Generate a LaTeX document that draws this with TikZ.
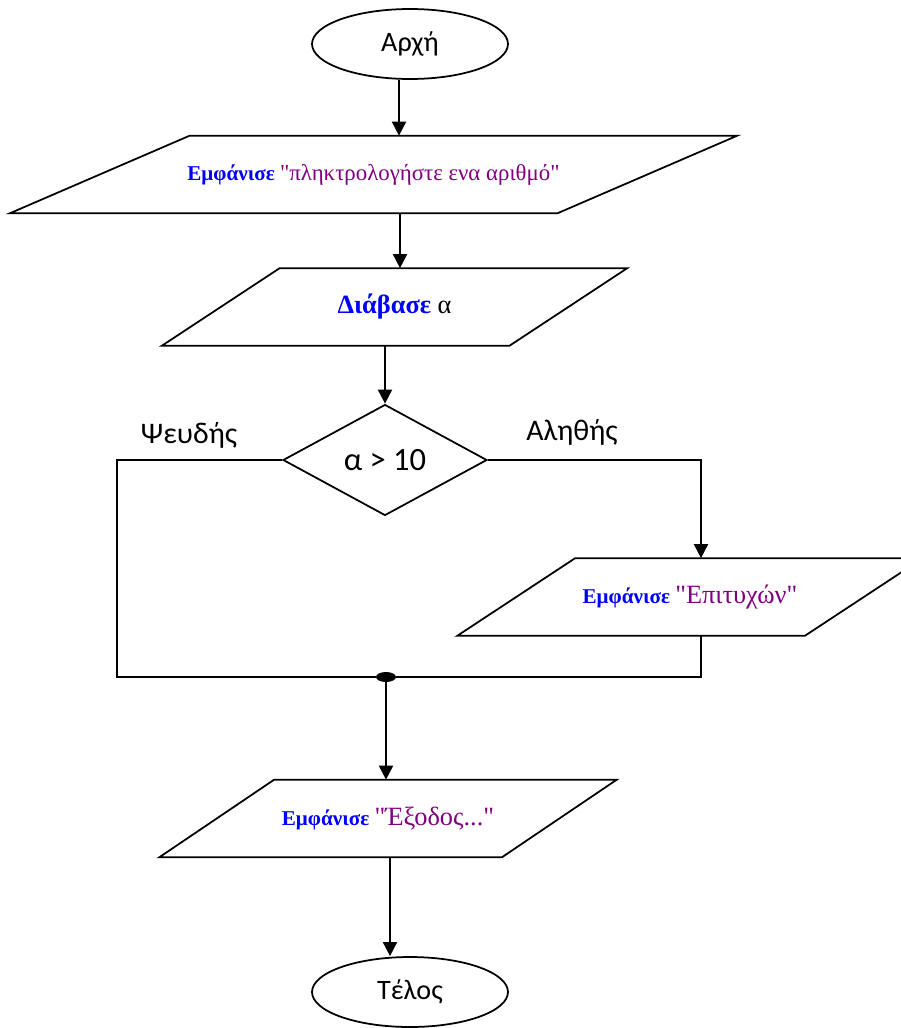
\documentclass[tikz,border=0pt]{standalone}
\usepackage{fontspec}
\newfontfamily\timesfont{Liberation Serif}
\newfontfamily\calibri{Carlito}
\usetikzlibrary{shapes.geometric,arrows.meta}
\definecolor{kwblue}{RGB}{0,0,255}
\definecolor{strpurple}{RGB}{128,0,128}
\newcommand{\kw}[1]{\textbf{\color{kwblue}#1}}
\newcommand{\quoted}[1]{{\color{strpurple}#1}}
\tikzstyle{term}=[ellipse,draw=black,line width=1pt,minimum width=3.92cm,minimum height=1.4cm,inner sep=0pt,font=\calibri\fontsize{16}{19}\selectfont]
\tikzstyle{io}=[rectangle,minimum width=6.94cm,minimum height=1.54cm,inner sep=0pt,font=\timesfont]
\tikzstyle{cond}=[diamond,draw=black,line width=1pt,minimum width=4.08cm,minimum height=2.22cm,inner sep=0pt,font=\calibri\fontsize{18.5}{21}\selectfont]
\tikzstyle{lbl}=[font=\calibri\fontsize{17}{20}\selectfont]
\tikzstyle{ln}=[line width=1pt]
\tikzstyle{arr}=[line width=1pt,-{Triangle[width=8pt,length=8pt]}]
% slanted outline round an io node: #1 node, #2 half slant
\newcommand{\iopath}[2]{\draw[ln] ([xshift=#2]#1.north west) -- ([xshift=#2]#1.north east) -- ([xshift=-#2]#1.south east) -- ([xshift=-#2]#1.south west) -- cycle;}

\begin{document}
\begin{tikzpicture}[x=0.02cm,y=-0.02cm]
\useasboundingbox (0,0) rectangle (901,1028);
\node[term] (start) at (410,44) {Αρχή};
\node[io,minimum width=10.94cm] (p1) at (373.5,174.5) {\fontsize{12}{14}\selectfont\kw{Εμφάνισε} \quoted{\fontsize{13}{15}\selectfont"πληκτρολογήστε ενα αριθμό"}};
\node[io] (p2) at (394.5,307) {\fontsize{15}{18}\selectfont\kw{Διάβασε} α};
\node[cond] (test) at (385,460) {α > 10};
\node[lbl] (no) at (189,435) {Ψευδής};
\node[lbl] (yes) at (572,432) {Αληθής};
\node[io] (p3) at (690,597) {\fontsize{12}{14}\selectfont\kw{Εμφάνισε} \quoted{\fontsize{15}{18}\selectfont"Επιτυχών"}};
\node[ellipse,fill=black,minimum width=0.4cm,minimum height=0.2cm,inner sep=0pt] (dot) at (386,677) {};
\node[io,minimum width=6.84cm] (p4) at (388,818.5) {\fontsize{12}{14}\selectfont\kw{Εμφάνισε} \quoted{\fontsize{15}{18}\selectfont"Έξοδος..."}};
\node[term] (stop) at (410,992) {Τέλος};
\iopath{p1}{1.8cm}
\iopath{p2}{1.18cm}
\iopath{p3}{1.18cm}
\iopath{p4}{1.15cm}
% connectors
\draw[arr] (399,0 |- start.south) -- (399,0 |- p1.north);
\draw[arr] (400,0 |- p1.south) -- (400,0 |- p2.north);
\draw[arr] (p2.south -| test.north) -- (test.north);
\draw[ln] (test.west) -- ++(-165,0) |- (dot);
\draw[arr] (test.east) -| (701,0 |- p3.north);
\draw[ln] (701,0 |- p3.south) |- (dot);
\draw[arr] (dot) -- (dot |- p4.north);
\draw[arr] (390,0 |- p4.south) -- (390,0 |- stop.north);
\end{tikzpicture}
\end{document}
